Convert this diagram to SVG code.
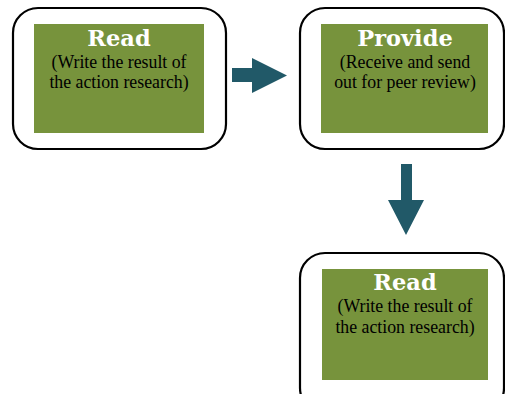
<svg xmlns="http://www.w3.org/2000/svg" width="505" height="394" viewBox="0 0 505 394">
<style>
.outer{fill:#fff;stroke:#000;stroke-width:2.2}
.inner{fill:#77933c}
.title{font-family:"DejaVu Serif",serif;font-weight:bold;font-size:22.5px;fill:#fff;text-anchor:middle}
.body{font-family:"Liberation Serif",serif;font-size:17.8px;fill:#000;text-anchor:middle}
.arrow{fill:#215968}
</style>
<rect width="505" height="394" fill="#fff"/>
<g id="connectors">
<polygon class="arrow" points="232,68 252,68 252,58 287,75.5 252,93 252,82 232,82"/>
<polygon class="arrow" points="401,164 412,164 412,200 424,200 406,235 388,200 401,200"/>
</g>
<g id="node1">
<rect class="outer" x="13" y="8" width="213" height="141" rx="25"/>
<rect class="inner" x="34" y="24" width="170" height="109"/>
<text class="title" x="119" y="46">Read</text>
<text class="body" x="119" y="68">(Write the result of</text>
<text class="body" x="119" y="88">the action research)</text>
</g>
<g id="node2">
<rect class="outer" x="300" y="8" width="204" height="141" rx="25"/>
<rect class="inner" x="321" y="24" width="167" height="109"/>
<text class="title" x="405" y="46">Provide</text>
<text class="body" x="405" y="68">(Receive and send</text>
<text class="body" x="405" y="88">out for peer review)</text>
</g>
<g id="node3">
<rect class="outer" x="300" y="253" width="204" height="160" rx="25"/>
<rect class="inner" x="322" y="269" width="166" height="111"/>
<text class="title" x="405" y="290">Read</text>
<text class="body" x="405" y="312">(Write the result of</text>
<text class="body" x="405" y="333">the action research)</text>
</g>
</svg>
